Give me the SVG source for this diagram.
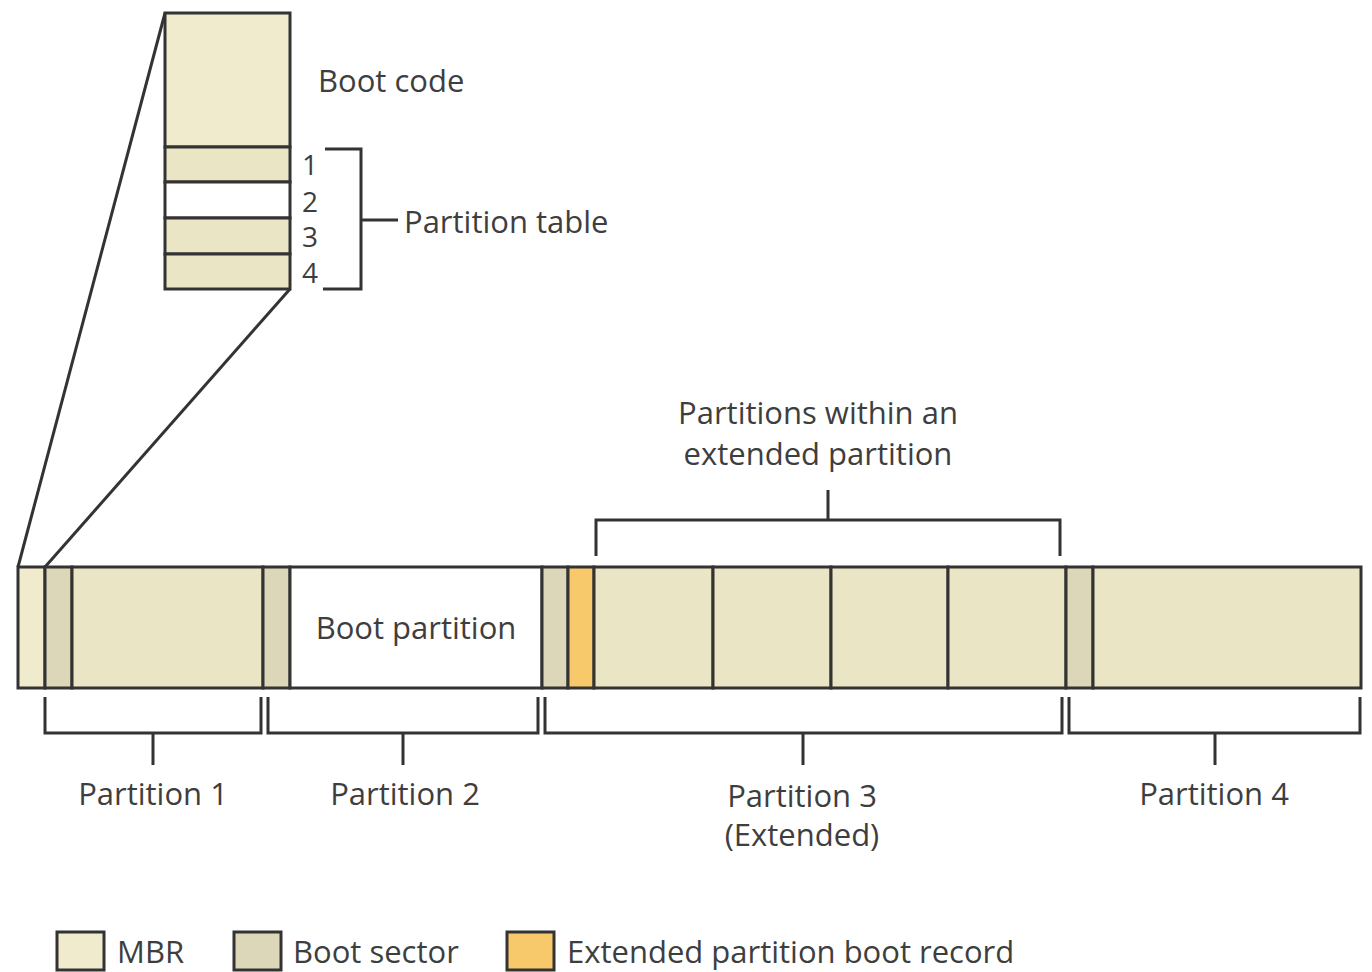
<svg xmlns="http://www.w3.org/2000/svg" width="1372" height="972" viewBox="0 0 1372 972">
  <style>
    .ln { fill: none; stroke: #333333; stroke-width: 3; stroke-linejoin: miter; }
    .box { stroke: #333333; stroke-width: 3; }
    .mbr { fill: #efebcc; }
    .bs { fill: #dbd7b8; }
    .part { fill: #e9e5c5; }
    .ep { fill: #f8c96b; }
    .wh { fill: #ffffff; }
    text { font-family: "Open Sans", "Noto Sans", "Liberation Sans", sans-serif; font-size: 31px; fill: #3e3e3e; }
    .num { font-size: 28px; }
    .mid { text-anchor: middle; }
  </style>

  <rect width="1372" height="972" fill="#ffffff"/>

  <!-- zoomed MBR layout -->
  <g id="mbr-detail">
    <rect class="box mbr" x="165" y="13" width="125" height="134"/>
    <rect class="box part" x="165" y="147" width="125" height="35"/>
    <rect class="box wh" x="165" y="182" width="125" height="36"/>
    <rect class="box part" x="165" y="218" width="125" height="36"/>
    <rect class="box part" x="165" y="254" width="125" height="35"/>
    <text x="318" y="92">Boot code</text>
    <text class="num" x="302" y="175">1</text>
    <text class="num" x="302" y="212">2</text>
    <text class="num" x="302" y="247">3</text>
    <text class="num" x="302" y="283">4</text>
  </g>

  <g id="partition-table-label">
    <text x="404" y="233">Partition table</text>
  </g>

  <!-- the disk -->
  <g id="disk">
    <rect class="box mbr" x="18" y="567" width="27" height="121"/>
    <rect class="box bs" x="45" y="567" width="27" height="121"/>
    <rect class="box part" x="72" y="567" width="191" height="121"/>
    <rect class="box bs" x="263" y="567" width="27" height="121"/>
    <rect class="box wh" x="290" y="567" width="252" height="121"/>
    <rect class="box bs" x="542" y="567" width="26" height="121"/>
    <rect class="box ep" x="568" y="567" width="26" height="121"/>
    <rect class="box part" x="594" y="567" width="119" height="121"/>
    <rect class="box part" x="713" y="567" width="118" height="121"/>
    <rect class="box part" x="831" y="567" width="117" height="121"/>
    <rect class="box part" x="948" y="567" width="118" height="121"/>
    <rect class="box bs" x="1066" y="567" width="27" height="121"/>
    <rect class="box part" x="1093" y="567" width="268" height="121"/>
    <text class="mid" x="416" y="639">Boot partition</text>
  </g>

  <g id="labels">
    <text class="mid" x="818" y="424">Partitions within an</text>
    <text class="mid" x="818" y="465">extended partition</text>
    <text class="mid" x="153" y="805">Partition 1</text>
    <text class="mid" x="405" y="805">Partition 2</text>
    <text class="mid" x="802" y="807">Partition 3</text>
    <text class="mid" x="802" y="846">(Extended)</text>
    <text class="mid" x="1214" y="805">Partition 4</text>
  </g>

  <!-- connectors: zoom lines and brackets -->
  <g id="connectors">
    <line class="ln" x1="165" y1="13" x2="18" y2="567"/>
    <line class="ln" x1="290" y1="289" x2="45" y2="567"/>
    <path class="ln" d="M325 149 H361 V289 H323 M361 220 H398"/>
    <path class="ln" d="M596 556 V520 H1060 V556 M828 520 V490"/>
    <path class="ln" d="M45 697 V733 H261 V697 M153 733 V765"/>
    <path class="ln" d="M268 697 V733 H538 V697 M403 733 V765"/>
    <path class="ln" d="M545 697 V733 H1062 V697 M803 733 V765"/>
    <path class="ln" d="M1069 697 V733 H1360 V697 M1215 733 V765"/>
  </g>

  <!-- key -->
  <g id="legend">
    <rect class="box mbr" x="57" y="932" width="47" height="38"/>
    <text x="117" y="963">MBR</text>
    <rect class="box bs" x="234" y="932" width="47" height="38"/>
    <text x="293" y="963">Boot sector</text>
    <rect class="box ep" x="507" y="932" width="47" height="38"/>
    <text x="567" y="963">Extended partition boot record</text>
  </g>
</svg>
